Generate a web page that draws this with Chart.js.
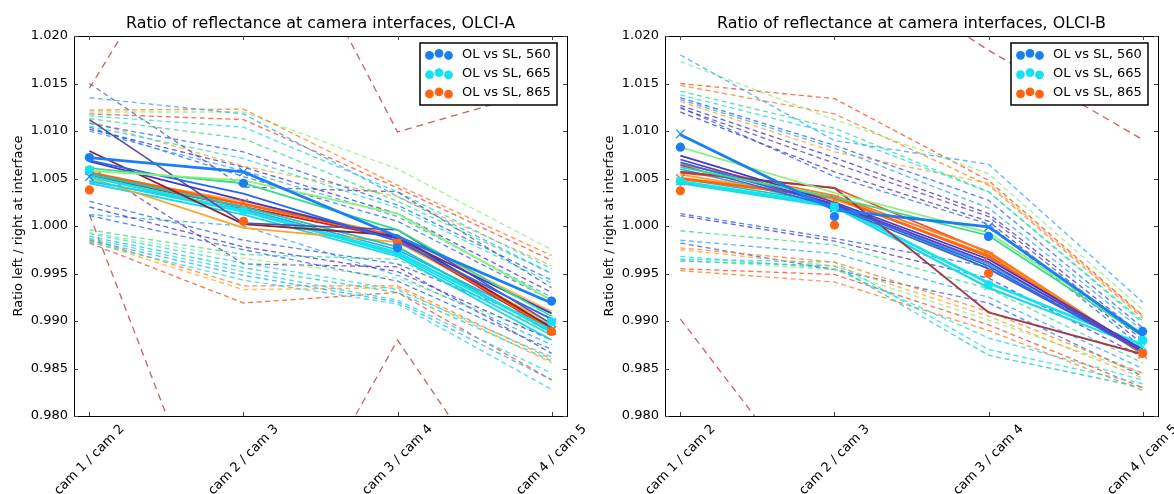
<!DOCTYPE html>
<html><head><meta charset="utf-8">
<script src="https://cdn.jsdelivr.net/npm/chart.js@4.4.1/dist/chart.umd.min.js"></script>
<style>
html,body{margin:0;padding:0;background:#fff;}
#wrap{position:relative;width:1174px;height:494px;overflow:hidden;}
.pane{position:absolute;top:0;width:587px;height:494px;}
</style></head><body>
<div id="wrap">
<div class="pane" style="left:0"><canvas id="cA" width="587" height="494"></canvas></div>
<div class="pane" style="left:587px"><canvas id="cB" width="587" height="494"></canvas></div>
</div>
<script>
// ---------- shared labels ----------
const categories = ['cam 1 / cam 2', 'cam 2 / cam 3', 'cam 3 / cam 4', 'cam 4 / cam 5'];
const yTicks = [0.980, 0.985, 0.990, 0.995, 1.000, 1.005, 1.010, 1.015, 1.020];
const legendLabels = ['OL vs SL, 560', 'OL vs SL, 665', 'OL vs SL, 865'];
const titleA = 'Ratio of reflectance at camera interfaces, OLCI-A';
const titleB = 'Ratio of reflectance at camera interfaces, OLCI-B';
const yTitle = 'Ratio left / right at interface';

// ---------- OLCI-A data ----------
const aDots560 = [1.0072, 1.0045, 0.9977, 0.9921];
const aDots665 = [1.0059, 1.0016, 0.9972, 0.9899];
const aDots865 = [1.0038, 1.0005, 0.9982, 0.9889];
const aCross560 = [1.0052, 1.0057, 0.9977, 0.9898];
const aCross865 = [1.0058, 1.0024, 0.9982, 0.9890];
const aSolid = [
  [1.0072, 1.0057, 0.9989, 0.9919],
  [1.0058, 1.0048, 1.0013, 0.9922],
  [1.0061, 1.0045, 0.9996, 0.9905],
  [1.0069, 1.0034, 0.9984, 0.9902],
  [1.0068, 1.0027, 0.9987, 0.9908],
  [1.0112, 1.0003, 0.9996, 0.9897],
  [1.0079, 1.0002, 0.9990, 0.9893],
  [1.0052, 1.0016, 0.9972, 0.9890],
  [1.0048, 1.0015, 0.9970, 0.9885],
  [1.0055, 1.0020, 0.9978, 0.9888],
  [1.0056, 1.0023, 0.9989, 0.9892],
  [1.0053, 1.0020, 0.9987, 0.9890],
  [1.0051, 0.9998, 0.9983, 0.9897],
  [1.0055, 1.0026, 0.9990, 0.9910],
  [1.0047, 1.0018, 0.9975, 0.9895],
  [1.0045, 1.0012, 0.9968, 0.9880]
];
const aDashed = [
  [1.0150, 1.0041, 1.0036, 0.9935],
  [1.0135, 1.0118, 1.0031, 0.9950],
  [1.0122, 1.0123, 1.0043, 0.9969],
  [1.0120, 1.0120, 1.0060, 0.9975],
  [1.0118, 1.0112, 1.0040, 0.9964],
  [1.0116, 1.0104, 1.0036, 0.9955],
  [1.0113, 1.0092, 1.0026, 0.9950],
  [1.0108, 1.0078, 1.0022, 0.9943],
  [1.0105, 1.0071, 1.0019, 0.9940],
  [1.0102, 1.0062, 1.0013, 0.9930],
  [1.0100, 1.0058, 1.0010, 0.9925],
  [1.0110, 1.0063, 1.0031, 0.9958],
  [1.0104, 1.0052, 1.0005, 0.9922],
  [1.0026, 0.9985, 0.9960, 0.9895],
  [1.0020, 0.9978, 0.9952, 0.9880],
  [1.0012, 1.0000, 0.9948, 0.9875],
  [1.0011, 0.9975, 0.9942, 0.9870],
  [0.9996, 0.9970, 0.9965, 0.9888],
  [0.9993, 0.9966, 0.9945, 0.9882],
  [0.9992, 0.9961, 0.9933, 0.9862],
  [0.9989, 0.9956, 0.9930, 0.9858],
  [0.9987, 0.9952, 0.9922, 0.9845],
  [0.9985, 0.9948, 0.9920, 0.9838],
  [0.9983, 0.9943, 0.9918, 0.9828],
  [0.9986, 0.9937, 0.9937, 0.9860],
  [0.9984, 0.9933, 0.9935, 0.9856],
  [0.9982, 0.9919, 0.9930, 0.9838],
  [1.0063, 0.9960, 0.9957, 0.9866]
];
const aOutliers = [
  [1.0145, 1.0410, 1.0099, 1.0146],
  [1.0012, 0.9590, 0.9880, 0.9642]
];

// ---------- OLCI-B data ----------
const bDots560 = [1.0083, 1.0010, 0.9989, 0.9889];
const bDots665 = [1.0047, 1.0020, 0.9938, 0.9880];
const bDots865 = [1.0037, 1.0001, 0.9950, 0.9866];
const bCross560 = [1.0097, 1.0019, 0.9999, 0.9885];
const bCross665 = [1.0047, 1.0020, 0.9937, 0.9873];
const bCross865 = [1.0050, 1.0028, 0.9968, 0.9865];
const bSolid = [
  [1.0096, 1.0017, 0.9999, 0.9885],
  [1.0083, 1.0035, 0.9993, 0.9887],
  [1.0062, 1.0030, 0.9990, 0.9884],
  [1.0074, 1.0025, 0.9965, 0.9870],
  [1.0070, 1.0023, 0.9962, 0.9868],
  [1.0067, 1.0022, 0.9958, 0.9867],
  [1.0064, 1.0020, 0.9955, 0.9868],
  [1.0057, 1.0040, 0.9909, 0.9865],
  [1.0065, 1.0032, 0.9973, 0.9867],
  [1.0050, 1.0030, 0.9968, 0.9866],
  [1.0054, 1.0028, 0.9970, 0.9868],
  [1.0056, 1.0040, 0.9972, 0.9865],
  [1.0047, 1.0022, 0.9940, 0.9875],
  [1.0045, 1.0020, 0.9935, 0.9872],
  [1.0050, 1.0024, 0.9955, 0.9870],
  [1.0060, 1.0021, 0.9960, 0.9870]
];
const bDashed = [
  [1.0180, 1.0090, 1.0065, 0.9920],
  [1.0173, 1.0112, 1.0055, 0.9912],
  [1.0150, 1.0134, 1.0048, 0.9906],
  [1.0148, 1.0118, 1.0043, 0.9903],
  [1.0142, 1.0103, 1.0036, 0.9898],
  [1.0138, 1.0097, 1.0036, 0.9900],
  [1.0135, 1.0085, 1.0027, 0.9893],
  [1.0133, 1.0082, 1.0019, 0.9890],
  [1.0131, 1.0078, 1.0045, 0.9905],
  [1.0127, 1.0072, 1.0013, 0.9885],
  [1.0124, 1.0066, 1.0010, 0.9880],
  [1.0120, 1.0057, 1.0005, 0.9876],
  [1.0125, 1.0052, 1.0002, 0.9872],
  [1.0013, 0.9987, 0.9957, 0.9870],
  [1.0011, 0.9984, 0.9945, 0.9862],
  [0.9995, 0.9980, 0.9934, 0.9856],
  [0.9985, 0.9971, 0.9925, 0.9850],
  [0.9977, 0.9962, 0.9910, 0.9845],
  [0.9975, 0.9958, 0.9905, 0.9840],
  [0.9965, 0.9962, 0.9870, 0.9834],
  [0.9963, 0.9958, 0.9864, 0.9830],
  [0.9964, 0.9954, 0.9901, 0.9845],
  [0.9955, 0.9949, 0.9896, 0.9830],
  [0.9953, 0.9941, 0.9890, 0.9827],
  [0.9982, 0.9954, 0.9919, 0.9842],
  [0.9968, 0.9955, 0.9882, 0.9838]
];
const bOutliers = [
  [1.0350, 1.0290, 1.0185, 1.0091],
  [0.9902, 0.9690, 0.9650, 0.9620]
];

// ---------- styles ----------
const C = {
  blue560: '#1a7ff2', cyan665: '#12e4ef', orange865: '#ff6412',
  indigo: '#4338c8', slate: '#54549e', blue: '#2a66ee', sky: '#2ea6f4',
  cyan: '#1ad8e8', teal: '#1cc6b8', green: '#36dc8c', lgreen: '#8cf07c',
  orangeY: '#ffa428', orange: '#ff7a1c', redOr: '#f25028', red: '#d42a1a',
  maroon: '#8c2034', purple: '#5a3cc0', brown: 'rgba(190,70,70,0.85)'
};
const aSolidColors = [C.blue560, C.lgreen, C.green, C.blue, C.indigo, C.slate, C.maroon, C.cyan665, C.cyan, C.teal, C.orange865, C.red, C.orangeY, '#ffb44a', C.sky, C.cyan];
const aSolidWidths = [2.8, 1.8, 1.8, 1.8, 1.8, 1.6, 1.8, 2.8, 1.8, 1.8, 3.0, 2.0, 1.7, 1.7, 1.7, 1.8];
const aDashedColors = [C.slate, C.sky, C.orange, C.lgreen, C.redOr, C.cyan, C.green, C.blue, C.cyan, C.indigo, C.sky, C.orangeY, C.blue,
  C.blue, C.indigo, C.sky, C.blue, C.green, C.lgreen, C.cyan, C.teal, C.cyan, C.sky, C.cyan, C.orange, C.orangeY, C.redOr, C.purple];
const bSolidColors = [C.blue560, C.lgreen, C.green, C.indigo, C.purple, C.blue, '#4a60c0', '#a03c4c', C.orange, C.orange865, C.orangeY, C.redOr, C.cyan665, C.cyan, C.teal, C.sky];
const bSolidWidths = [2.8, 1.8, 1.8, 1.8, 1.7, 1.7, 1.7, 2.0, 1.8, 2.8, 1.7, 1.7, 2.8, 2.0, 1.7, 1.7];
const bDashedColors = [C.sky, C.lgreen, C.redOr, C.orange, C.green, C.cyan, C.blue, C.sky, C.orangeY, C.indigo, C.purple, C.indigo, C.blue,
  C.blue, C.indigo, C.green, C.sky, C.orange, C.orangeY, C.cyan, C.teal, C.lgreen, C.redOr, C.orange, C.blue, C.cyan];

const FONT = '"DejaVu Sans", "Liberation Sans", sans-serif';

function pts(vals) { return vals.map((v, i) => ({ x: i, y: v })); }
function hexA(hex, a) {
  if (hex.startsWith('rgba')) return hex;
  const n = parseInt(hex.slice(1), 16);
  return `rgba(${(n >> 16) & 255},${(n >> 8) & 255},${n & 255},${a})`;
}

function buildDatasets(p) {
  const ds = [];
  p.dots.forEach((d, k) => ds.push({ data: pts(d), showLine: false, pointRadius: 4.6, pointHoverRadius: 4.6,
    pointBackgroundColor: p.dotColors[k], pointBorderWidth: 0, borderColor: p.dotColors[k] }));
  p.crosses.forEach((d, k) => ds.push({ data: pts(d), showLine: false, pointStyle: 'crossRot', pointRadius: 6,
    pointBorderColor: p.crossColors[k], pointBorderWidth: 1.3, borderColor: p.crossColors[k] }));
  p.solid.forEach((d, k) => ds.push({ data: pts(d), showLine: true, pointRadius: 0, borderColor: p.solidColors[k],
    borderWidth: p.solidWidths[k], tension: 0, clip: 0 }));
  p.dashed.forEach((d, k) => ds.push({ data: pts(d), showLine: true, pointRadius: 0, borderColor: hexA(p.dashedColors[k], 0.78),
    borderWidth: 1.35, borderDash: [5, 3.5], tension: 0, clip: 0 }));
  p.outliers.forEach(d => ds.push({ data: pts(d), showLine: true, pointRadius: 0, borderColor: C.brown,
    borderWidth: 1.3, borderDash: [7, 5], tension: 0, clip: 0 }));
  return ds;
}

const decorPlugin = {
  id: 'decor',
  afterDraw(chart, args, o) {
    const ctx = chart.ctx, a = chart.chartArea, xs = chart.scales.x, ys = chart.scales.y;
    ctx.save();
    // frame
    ctx.strokeStyle = '#000'; ctx.lineWidth = 1;
    ctx.strokeRect(Math.round(a.left) + 0.5, Math.round(a.top) + 0.5, Math.round(a.right - a.left), Math.round(a.bottom - a.top));
    // inward ticks
    ctx.lineWidth = 1; ctx.strokeStyle = '#444';
    ctx.beginPath();
    yTicks.forEach(t => {
      const y = Math.round(ys.getPixelForValue(t)) + 0.5;
      ctx.moveTo(a.left, y); ctx.lineTo(a.left + 4, y);
      ctx.moveTo(a.right, y); ctx.lineTo(a.right - 4, y);
    });
    categories.forEach((c, i) => {
      const x = Math.round(xs.getPixelForValue(i)) + 0.5;
      ctx.moveTo(x, a.bottom); ctx.lineTo(x, a.bottom - 4);
      ctx.moveTo(x, a.top); ctx.lineTo(x, a.top + 4);
    });
    ctx.stroke();
    // y tick labels
    ctx.fillStyle = '#000';
    ctx.font = '13px ' + FONT;
    ctx.textAlign = 'right'; ctx.textBaseline = 'middle';
    yTicks.forEach(t => ctx.fillText(t.toFixed(3), a.left - 6, ys.getPixelForValue(t)));
    // x labels rotated
    ctx.textAlign = 'center';
    categories.forEach((c, i) => {
      ctx.save();
      ctx.translate(xs.getPixelForValue(i), a.bottom + 44);
      ctx.rotate(-Math.PI / 4);
      ctx.fillText(c, 0, 0);
      ctx.restore();
    });
    // y title
    ctx.save();
    ctx.translate(a.left - 55, (a.top + a.bottom) / 2);
    ctx.rotate(-Math.PI / 2);
    ctx.fillText(yTitle, 0, 0);
    ctx.restore();
    // title
    ctx.font = '15.9px ' + FONT;
    ctx.fillText(o.title, (a.left + a.right) / 2, 24);
    // legend
    const bw = 137, bh = 62;
    const bx = a.right - 10 - bw, by = a.top + 7;
    ctx.fillStyle = '#fff';
    ctx.fillRect(bx, by, bw, bh);
    ctx.strokeStyle = '#000'; ctx.lineWidth = 1.5;
    ctx.strokeRect(bx, by, bw, bh);
    const dotDx = [9.5, 19, 28.5], dotDy = [0.8, -1.2, 1.0];
    legendLabels.forEach((lab, k) => {
      const cy = by + 11.5 + k * 19.3;
      ctx.fillStyle = o.legendColors[k];
      dotDx.forEach((dx, j) => { ctx.beginPath(); ctx.arc(bx + dx, cy + dotDy[j], 4.4, 0, Math.PI * 2); ctx.fill(); });
      ctx.fillStyle = '#000';
      ctx.font = '13px ' + FONT;
      ctx.textAlign = 'left'; ctx.textBaseline = 'middle';
      ctx.fillText(lab, bx + 42, cy);
    });
    ctx.restore();
  }
};

function makeChart(id, p, padding, title) {
  return new Chart(document.getElementById(id), {
    type: 'scatter',
    data: { datasets: buildDatasets(p) },
    options: {
      responsive: false, animation: false, devicePixelRatio: 1,
      layout: { padding },
      plugins: { legend: { display: false }, tooltip: { enabled: false },
        decor: { title, legendColors: [C.blue560, C.cyan665, C.orange865] } },
      events: [],
      scales: {
        x: { type: 'linear', min: -0.1, max: 3.1, display: false },
        y: { type: 'linear', min: 0.980, max: 1.020, display: false }
      }
    },
    plugins: [decorPlugin]
  });
}

makeChart('cA', {
  dots: [aDots560, aDots665, aDots865], dotColors: [C.blue560, C.cyan665, C.orange865],
  crosses: [aCross560, aCross865], crossColors: [C.blue560, C.orange865],
  solid: aSolid, solidColors: aSolidColors, solidWidths: aSolidWidths,
  dashed: aDashed, dashedColors: aDashedColors, outliers: aOutliers
}, { left: 74, right: 20, top: 36, bottom: 78 }, titleA);

makeChart('cB', {
  dots: [bDots560, bDots665, bDots865], dotColors: [C.blue560, C.cyan665, C.orange865],
  crosses: [bCross560, bCross665, bCross865], crossColors: [C.blue560, C.cyan665, C.orange865],
  solid: bSolid, solidColors: bSolidColors, solidWidths: bSolidWidths,
  dashed: bDashed, dashedColors: bDashedColors, outliers: bOutliers
}, { left: 78, right: 16, top: 36, bottom: 78 }, titleB);
</script>
</body></html>
